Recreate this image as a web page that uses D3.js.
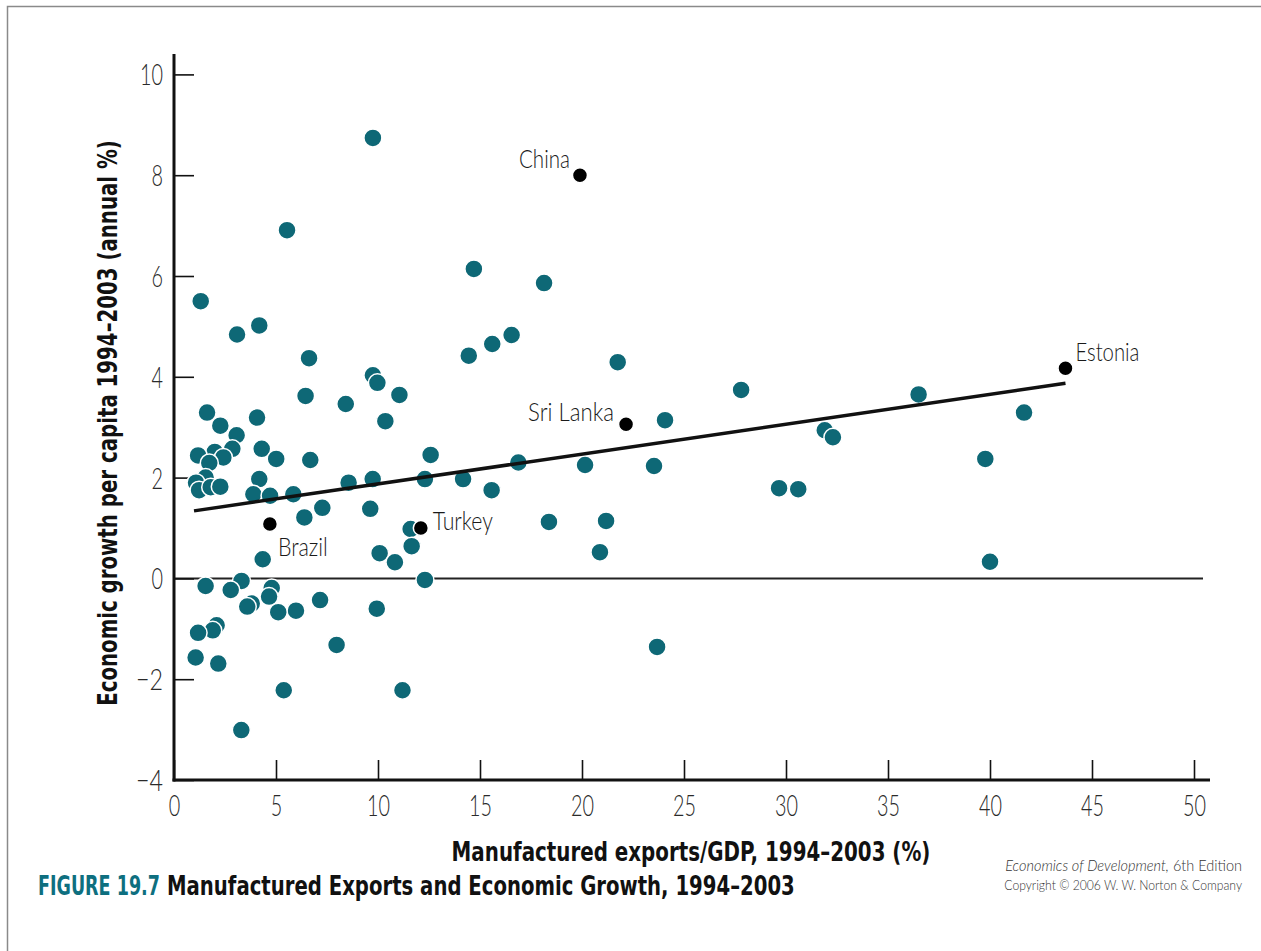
<!DOCTYPE html>
<html><head><meta charset="utf-8">
<script src="https://cdn.jsdelivr.net/npm/d3@7"></script>
<style>
body{margin:0;background:#fff;}
svg{display:block;}
.cond{font-family:"Liberation Sans Narrow","DejaVu Sans Condensed","Liberation Sans",sans-serif;}
.thin{font-family:"Lato","Roboto","Liberation Sans",sans-serif;font-weight:300;}
</style></head>
<body>
<svg id="chart" width="1261" height="951"></svg>
<script>
// ---- data ----
const xTicks = [0,5,10,15,20,25,30,35,40,45,50];
const yTicks = [-4,-2,0,2,4,6,8,10];
const xValues = [9.75,5.54,14.7,18.14,1.31,4.18,3.09,16.55,15.6,14.45,6.62,21.75,9.75,9.97,27.8,11.05,6.45,36.5,8.42,41.67,1.62,4.07,10.36,24.07,2.27,31.9,32.3,3.07,4.3,2.86,2.0,12.58,1.18,2.42,5.01,39.77,6.68,16.88,1.73,20.15,23.53,4.18,9.74,12.3,14.17,1.55,1.08,8.56,1.23,1.8,2.27,29.66,30.6,15.57,3.89,4.71,5.85,7.27,9.62,6.39,18.38,21.18,11.6,11.65,20.88,10.08,4.35,40.0,10.83,12.3,3.31,1.55,4.79,2.78,4.66,7.16,3.81,3.59,9.94,5.98,5.11,2.09,1.9,1.18,7.97,23.68,1.06,2.17,5.38,11.2,3.3];
const yValues = [8.74,6.91,6.14,5.86,5.50,5.02,4.84,4.83,4.65,4.42,4.37,4.29,4.03,3.88,3.74,3.64,3.62,3.65,3.46,3.29,3.29,3.19,3.12,3.14,3.03,2.94,2.8,2.84,2.57,2.57,2.51,2.45,2.44,2.40,2.37,2.37,2.35,2.30,2.29,2.25,2.23,1.97,1.97,1.97,1.97,2.0,1.9,1.9,1.75,1.81,1.82,1.79,1.77,1.75,1.67,1.64,1.67,1.4,1.38,1.21,1.12,1.14,0.98,0.64,0.52,0.5,0.38,0.33,0.32,-0.03,-0.05,-0.15,-0.19,-0.23,-0.36,-0.43,-0.5,-0.56,-0.6,-0.64,-0.67,-0.93,-1.03,-1.08,-1.32,-1.36,-1.57,-1.69,-2.22,-2.22,-3.01];
const namedCountries = ["China","Sri Lanka","Estonia","Brazil","Turkey"];
const namedX = [19.9,22.16,43.7,4.7,12.1];
const namedY = [8.0,3.06,4.17,1.08,1.0];
const trendX = [0.98,43.7];
const trendY = [1.34,3.87];
const xTitle = "Manufactured exports/GDP, 1994–2003 (%)";
const yTitle = "Economic growth per capita 1994–2003 (annual %)";
const figNumber = "FIGURE 19.7";
const figTitle = "Manufactured Exports and Economic Growth, 1994–2003";

// ---- layout ----
const svg = d3.select("#chart");
const x = d3.scaleLinear().domain([0,50]).range([174,1194]);
const y = d3.scaleLinear().domain([-4,10]).range([780,74.4]);
const teal = "#0e6876";
const tickLen = s => s.length*11.5 + (s.startsWith("−") ? 4 : 0);

// squeeze a text horizontally to a target width, keeping its anchor point
function squeeze(sel, width, ax, ay, rotate) {
  const n = sel.node();
  const w = n.getComputedTextLength();
  const s = width / w;
  sel.attr("x",0).attr("y",0)
     .attr("transform",`translate(${ax},${ay})${rotate?` rotate(${rotate})`:""} scale(${s},1)`);
}

// frame
svg.append("path").attr("d","M7.5,951 V6.5 H1261").attr("fill","none").attr("stroke","#8a8a8a").attr("stroke-width",1.5);

// zero line
svg.append("line").attr("x1",x(0)).attr("x2",1203).attr("y1",y(0)).attr("y2",y(0)).attr("stroke","#222").attr("stroke-width",2);

// axes
const gx = svg.append("g").attr("transform",`translate(0,${y(-4)})`)
  .call(d3.axisTop(x).tickValues(xTicks).tickSize(20).tickFormat(d3.format("d")));
gx.select(".domain").remove();
gx.selectAll(".tick line").attr("stroke","#111").attr("stroke-width",1.6);
gx.selectAll(".tick text").attr("dy",0).attr("class","thin")
  .attr("font-size",29).attr("fill","#2a2a2a").attr("text-anchor","middle")
  .each(function(){ squeeze(d3.select(this), tickLen(this.textContent), 0, 36); });

const gy = svg.append("g").attr("transform",`translate(${x(0)},0)`)
  .call(d3.axisRight(y).tickValues(yTicks).tickSize(20).tickFormat(d => d<0 ? "−"+Math.abs(d) : d));
gy.select(".domain").remove();
gy.selectAll(".tick line").attr("stroke","#111").attr("stroke-width",1.6);
gy.selectAll(".tick text").attr("dy","0.36em").attr("class","thin")
  .attr("font-size",29).attr("fill","#2a2a2a").attr("text-anchor","end")
  .each(function(){ squeeze(d3.select(this), tickLen(this.textContent), -11, 0); });

// axis lines
svg.append("line").attr("x1",x(0)).attr("x2",x(0)).attr("y1",54).attr("y2",y(-4)+1.5).attr("stroke","#111").attr("stroke-width",3);
svg.append("line").attr("x1",x(0)-1.5).attr("x2",1210).attr("y1",y(-4)).attr("y2",y(-4)).attr("stroke","#111").attr("stroke-width",3);

// teal points
const pts = xValues.map((v,i)=>({x:v,y:yValues[i]}));
svg.append("g").selectAll("circle").data(pts).join("circle")
  .attr("cx",d=>x(d.x)).attr("cy",d=>y(d.y)).attr("r",9)
  .attr("fill",teal).attr("stroke","#fff").attr("stroke-width",1.5);

// trend line
svg.append("line").attr("x1",x(trendX[0])).attr("y1",y(trendY[0])).attr("x2",x(trendX[1])).attr("y2",y(trendY[1]))
  .attr("stroke","#111").attr("stroke-width",3.5);

// named points
const named = namedCountries.map((n,i)=>({n,x:namedX[i],y:namedY[i]}));
svg.append("g").selectAll("circle").data(named).join("circle")
  .attr("cx",d=>x(d.x)).attr("cy",d=>y(d.y)).attr("r",7.5)
  .attr("fill","#000").attr("stroke","#fff").attr("stroke-width",1.5);
const labelPos = {
  "China":{dx:-10,dy:-17,anchor:"end",w:51},
  "Sri Lanka":{dx:-12,dy:-13,anchor:"end",w:86},
  "Estonia":{dx:10,dy:-17,anchor:"start",w:64},
  "Brazil":{dx:8,dy:23,anchor:"start",w:50},
  "Turkey":{dx:12,dy:-7,anchor:"start",w:60}
};
svg.append("g").selectAll("text").data(named).join("text")
  .attr("class","thin")
  .attr("dy","0.36em").attr("text-anchor",d=>labelPos[d.n].anchor)
  .attr("font-size",26).attr("fill","#1a1a1a").text(d=>d.n)
  .each(function(d){ squeeze(d3.select(this), labelPos[d.n].w, x(d.x)+labelPos[d.n].dx, y(d.y)+labelPos[d.n].dy); });

// axis titles
const xt = svg.append("text").attr("class","cond").attr("text-anchor","middle")
  .attr("font-size",26).attr("font-weight","bold").attr("fill","#111").text(xTitle);
squeeze(xt, 479, 691, 861);
const yt = svg.append("text").attr("class","cond").attr("text-anchor","middle")
  .attr("font-size",26).attr("font-weight","bold").attr("fill","#111").text(yTitle);
squeeze(yt, 566, 117, 423, -90);

// caption
const c1 = svg.append("text").attr("class","cond")
  .attr("font-size",26).attr("font-weight","bold").attr("fill","#0e6f7f").text(figNumber);
squeeze(c1, 122, 38, 895);
const c2 = svg.append("text").attr("class","cond")
  .attr("font-size",26).attr("font-weight","bold").attr("fill","#111").text(figTitle);
squeeze(c2, 628, 167, 895);

const r1 = svg.append("text").attr("class","thin").attr("text-anchor","end")
  .attr("font-size",15).attr("fill","#333");
r1.append("tspan").attr("font-style","italic").text("Economics of Development,");
r1.append("tspan").text(" 6th Edition");
squeeze(r1, 237, 1242, 871);
const r2 = svg.append("text").attr("class","thin").attr("text-anchor","end")
  .attr("font-size",13).attr("fill","#333").text("Copyright © 2006 W. W. Norton & Company");
squeeze(r2, 238, 1242, 890);
</script>
</body></html>
